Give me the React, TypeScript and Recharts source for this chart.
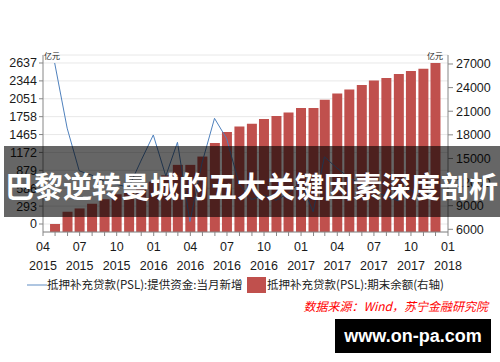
import React from 'react';
import { ComposedChart, Bar, Line, XAxis, YAxis, CartesianGrid, Legend } from 'recharts';

// months of the data (month-end values)
const months = [
  '2015-04', '2015-05', '2015-06', '2015-07', '2015-08', '2015-09', '2015-10', '2015-11', '2015-12',
  '2016-01', '2016-02', '2016-03', '2016-04', '2016-05', '2016-06', '2016-07', '2016-08', '2016-09',
  '2016-10', '2016-11', '2016-12', '2017-01', '2017-02', '2017-03', '2017-04', '2017-05', '2017-06',
  '2017-07', '2017-08', '2017-09', '2017-10', '2017-11',
];

// 抵押补充贷款(PSL):提供资金:当月新增 (亿元, left axis)
const pslNew = [
  2637, 1570, 870, 800, 700, 650, 600, 1030, 1458,
  786, 1338, 40, 1000, 1731, 1400, 660, 400, 470,
  390, 500, 693, 200, 1100, 917, 760, 650, 560,
  450, 380, 560, 400, 650,
];

// 抵押补充贷款(PSL):期末余额 (亿元, right axis)
const pslBalance = [
  6675, 8240, 8650, 9245, 9820, 10455, 10660, 11300, 12060,
  12850, 14185, 14185, 15240, 16950, 18350, 19060, 19405, 20000,
  20385, 20845, 21400, 21400, 22460, 23260, 23770, 24330, 24915,
  25220, 25730, 26115, 26405, 27130,
];

const leftTicks = [0, 293, 586, 879, 1172, 1465, 1758, 2051, 2344, 2637];
const rightTicks = [6000, 9000, 12000, 15000, 18000, 21000, 24000, 27000];

const DAY = 86400000;
const monthEnd = (s: string) => {
  const [y, m] = s.split('-').map(Number);
  return Date.UTC(y, m, 0) / DAY;
};

const data = months.map((m, i) => ({ t: monthEnd(m), newAmt: pslNew[i], balance: pslBalance[i] }));

// month boundaries from 2015-04 to 2018-01 for axis ticks
const monthTicks: number[] = [];
for (let k = 0; k <= 33; k++) monthTicks.push(Date.UTC(2015, 3 + k, 1) / DAY);

const NUM_FONT = "'Liberation Sans', Arial, sans-serif";
const CJK_FONT = "'Noto Sans CJK SC', 'Noto Sans', sans-serif";
const AXIS = '#868686';
const RED = '#c0504d';
const BLUE = '#4f81bd';

const XTick = (props: any) => {
  const { x, y, payload } = props;
  const d = new Date(payload.value * DAY);
  const m = d.getUTCMonth() + 1;
  if ((m - 1) % 3 !== 0) return <g />;
  return (
    <text x={x} y={y} textAnchor="middle" fill="#1a1a1a" fontSize={12.5} fontFamily={NUM_FONT}>
      <tspan x={x} dy={13}>{String(m).padStart(2, '0')}</tspan>
      <tspan x={x} dy={18.5}>{d.getUTCFullYear()}</tspan>
    </text>
  );
};

const UnitLabel = (props: any) => {
  const { viewBox, side } = props;
  if (!viewBox) return null;
  const x = side === 'left' ? viewBox.x + viewBox.width + 1 : viewBox.x - 5;
  return (
    <text x={x} y={58.5} textAnchor={side === 'left' ? 'start' : 'end'} fontSize={8} fill="#222" fontFamily={CJK_FONT}>
      亿元
    </text>
  );
};

const renderLegend = () => (
  <svg width={500} height={26}>
    <line x1={27} x2={47} y1={13} y2={13} stroke="#95b3d7" strokeWidth={1.5} />
    <text x={47} y={17} fontSize={11.5} fill="#222" fontFamily={CJK_FONT}>抵押补充贷款(PSL):提供资金:当月新增</text>
    <rect x={247} y={5} width={19} height={16} fill={RED} />
    <text x={267} y={17} fontSize={11.5} fill="#222" fontFamily={CJK_FONT}>抵押补充贷款(PSL):期末余额(右轴)</text>
  </svg>
);

export default function App() {
  return (
    <div style={{ position: 'absolute', left: 0, top: 0, width: 500, height: 362, background: '#fff', overflow: 'hidden' }}>
      <ComposedChart width={500} height={362} data={data} margin={{ top: 55, right: 0, bottom: 90, left: 0 }}>
        <CartesianGrid yAxisId="left" vertical={false} stroke="#e8e8e8" />
        <XAxis
          dataKey="t"
          type="number"
          domain={[monthTicks[0], monthTicks[monthTicks.length - 1]]}
          ticks={monthTicks}
          interval={0}
          height={40}
          tick={<XTick />}
          tickSize={4}
          tickMargin={2}
          axisLine={{ stroke: AXIS }}
          tickLine={{ stroke: AXIS }}
        />
        <YAxis
          yAxisId="left"
          width={43}
          domain={[-131, 2768]}
          ticks={leftTicks}
          interval={0}
          tickSize={4}
          tickMargin={2}
          axisLine={{ stroke: AXIS }}
          tickLine={{ stroke: AXIS }}
          tick={{ fill: '#1a1a1a', fontSize: 12.5, fontFamily: NUM_FONT }}
          label={<UnitLabel side="left" />}
        />
        <YAxis
          yAxisId="right"
          orientation="right"
          width={52}
          domain={[5657, 28143]}
          ticks={rightTicks}
          interval={0}
          tickSize={5}
          tickMargin={3}
          axisLine={{ stroke: AXIS }}
          tickLine={{ stroke: AXIS }}
          tick={{ fill: '#1a1a1a', fontSize: 12.5, fontFamily: NUM_FONT }}
          label={<UnitLabel side="right" />}
        />
        <Legend
          layout="vertical"
          align="center"
          verticalAlign="middle"
          wrapperStyle={{ position: 'absolute', left: 0, top: 272, width: 500, height: 26 }}
          content={renderLegend}
        />
        <Bar yAxisId="right" dataKey="balance" fill={RED} barSize={10} isAnimationActive={false} />
        <Line
          yAxisId="left"
          type="linear"
          dataKey="newAmt"
          stroke={BLUE}
          strokeWidth={1}
          dot={false}
          activeDot={false}
          isAnimationActive={false}
        />
      </ComposedChart>

      {/* title banner over the chart */}
      <div style={{ position: 'absolute', left: 4, top: 146, width: 496, height: 71, background: 'rgba(0,0,0,0.6)' }} />
      <div
        style={{
          position: 'absolute', left: 5, top: 169, fontSize: 29, lineHeight: '32px', fontWeight: 700,
          color: '#fff', fontFamily: CJK_FONT, whiteSpace: 'nowrap',
        }}
      >
        巴黎逆转曼城的五大关键因素深度剖析
      </div>

      <div
        style={{
          position: 'absolute', right: 12, top: 298, fontSize: 12, lineHeight: '16px', fontStyle: 'italic',
          color: '#ff0000', fontFamily: CJK_FONT, whiteSpace: 'nowrap',
        }}
      >
        数据来源：Wind，苏宁金融研究院
      </div>

      <div
        style={{
          position: 'absolute', left: 335, top: 319, width: 156, height: 34, background: '#000',
          color: '#fff', fontFamily: NUM_FONT, fontWeight: 700, fontSize: 18, lineHeight: '34px', textAlign: 'center',
        }}
      >
        www.on-pa.com
      </div>
    </div>
  );
}
